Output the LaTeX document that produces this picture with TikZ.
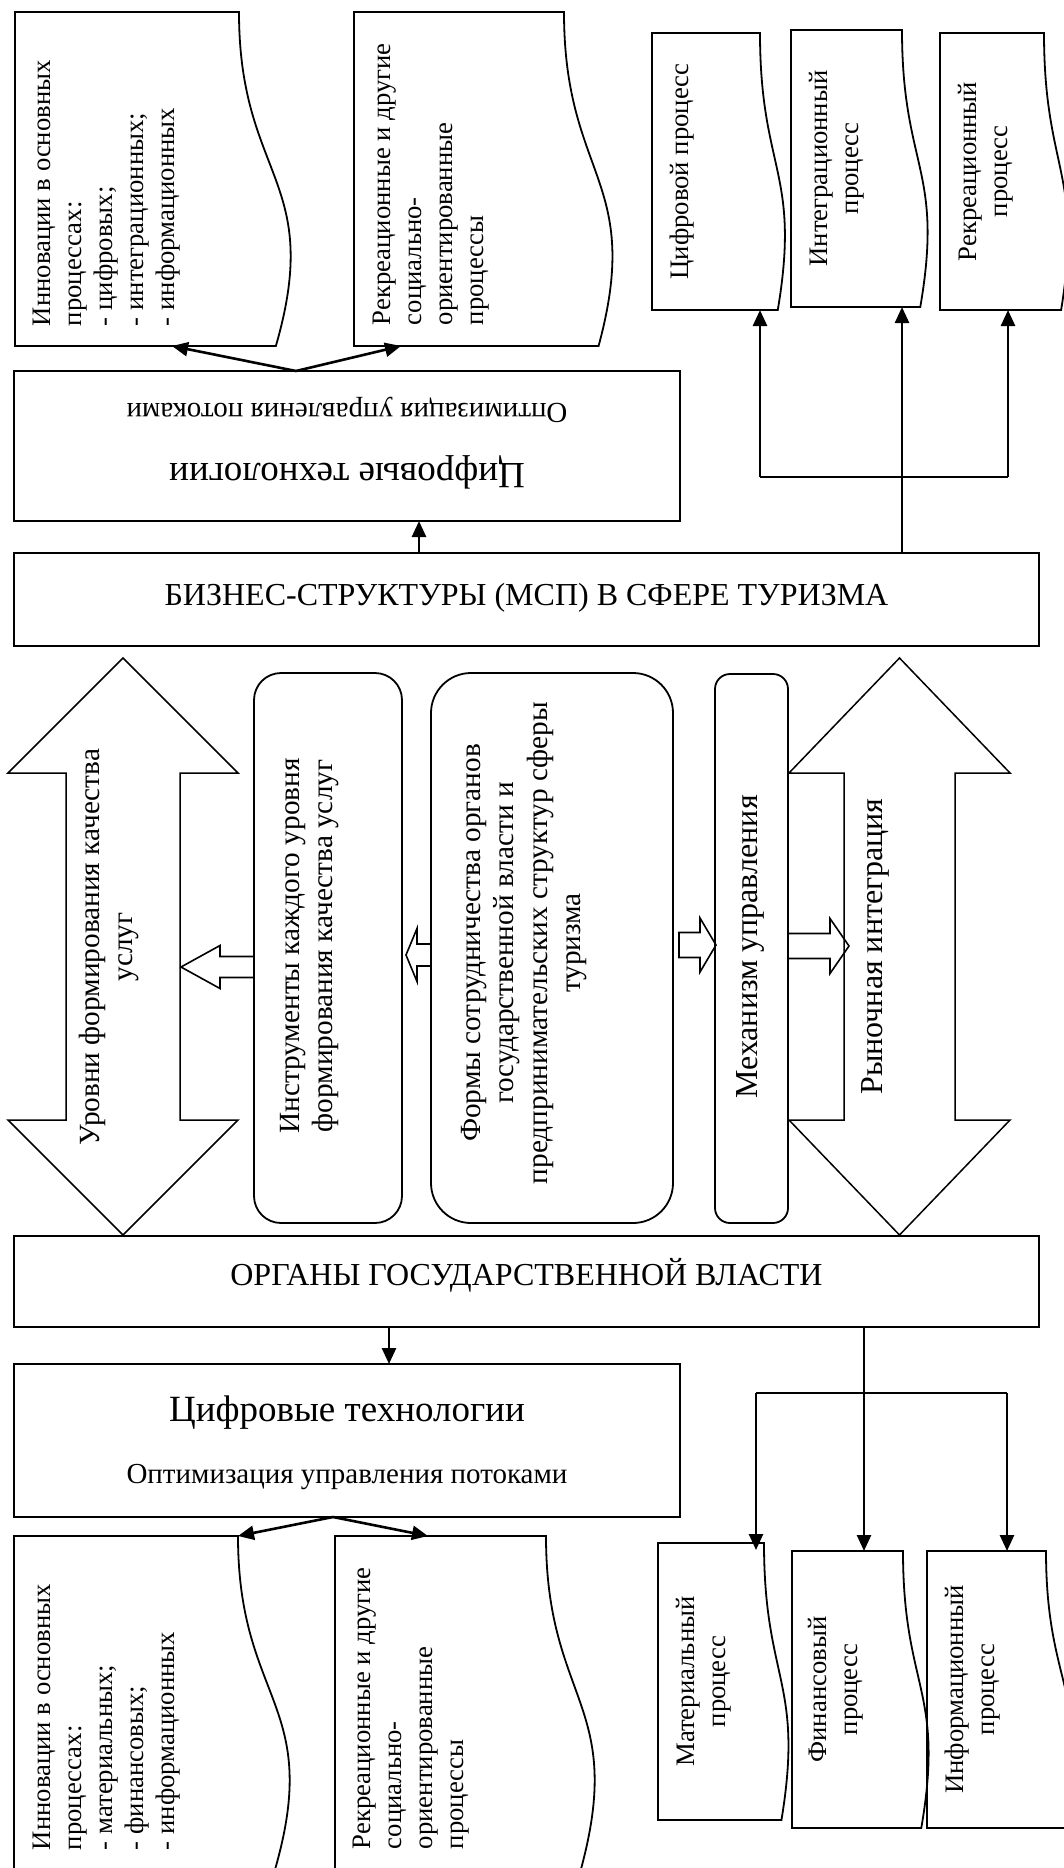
\documentclass[tikz,border=0pt]{standalone}
\usepackage{fontspec}
\setmainfont{Liberation Serif}
\usetikzlibrary{arrows.meta,calc}

\newcommand{\szBody}{\fontsize{26.7pt}{31pt}\selectfont}
\newcommand{\szLabel}{\fontsize{32pt}{36.5pt}\selectfont}
\newcommand{\szColumn}{\fontsize{29.3pt}{33.6pt}\selectfont}
\newcommand{\szBig}{\fontsize{37pt}{42pt}\selectfont}
\newcommand{\szSub}{\fontsize{29pt}{33pt}\selectfont}

% document shape turned on its side: wavy edge on the right
% #1 name, #2 left, #3 top, #4 right end of the straight top edge, #5 bottom
\newcommand{\docbox}[5]{%
  \pgfmathsetmacro{\dbMidY}{(#3+#5)/2}%
  \pgfmathsetmacro{\dbCtlX}{#2+1.380*(#4-#2)}%
  \pgfmathsetmacro{\dbEndX}{#2+1.1646*(#4-#2)}%
  \pgfmathsetmacro{\dbW}{#4-#2}%
  \pgfmathsetmacro{\dbH}{#5-#3}%
  \node[docnode, minimum width=\dbW pt, minimum height=\dbH pt, anchor=north west] (#1) at (#2,#3) {};
  \draw[boxline] (#1.north west) -- (#1.north east)
     .. controls (#4,\dbMidY) and (\dbCtlX,\dbMidY) .. (\dbEndX,#5)
     -- (#1.south west) -- cycle;
}

\begin{document}
\begin{tikzpicture}[x=1pt, y=-1pt,
  boxline/.style={draw=black, line width=1.8pt, line join=miter},
  docnode/.style={inner sep=0pt, outer sep=0pt, draw=none},
  rectbox/.style={draw=black, line width=1.8pt, inner sep=0pt, outer sep=0pt, anchor=north west},
  roundbox/.style={draw=black, line width=1.8pt, inner sep=0pt, outer sep=0pt, anchor=north west},
  bigarrow/.style={draw=black, line width=1.5pt, line join=miter},
  smallarrow/.style={draw=black, line width=1.6pt, line join=miter},
  conn/.style={line width=2.6pt, -{Triangle[length=16pt,width=14pt]}},
  busline/.style={line width=2.6pt},
  stem/.style={line width=1.3pt},
  vtext/.style={rotate=90, inner sep=0pt, outer sep=0pt},
  htext/.style={inner sep=0pt, outer sep=0pt, anchor=base},
]
\useasboundingbox (0,0) rectangle (1064,1868);
\fill[white] (0,0) rectangle (1064,1868);
\begin{scope}
\clip (0,0) rectangle (1064,1868);

% ---------- upper documents ----------
\docbox{innoA}{15}{12}{239}{346}
\node[vtext, anchor=north west, align=left, font=\szBody] (innoA-t) at (33,326)
  {Инновации в основных\\процессах:\\- цифровых;\\- интеграционных;\\- информационных};
\docbox{recA}{354}{12}{564}{346}
\node[vtext, anchor=north west, align=left, font=\szBody] (recA-t) at (373,325)
  {Рекреационные и другие\\социально-\\ориентированные\\процессы};

\docbox{pDig}{652}{33}{760}{310}
\node[vtext, anchor=north, align=center, font=\szBody] (pDig-t) at (670,171.5) {Цифровой процесс};
\docbox{pInt}{791}{30}{902}{307}
\node[vtext, anchor=north, align=center, font=\szBody] (pInt-t) at (809,168.5) {Интеграционный\\процесс};
\docbox{pRec}{940}{33}{1044}{310}
\node[vtext, anchor=north, align=center, font=\szBody] (pRec-t) at (958,171.5) {Рекреационный\\процесс};

% ---------- upper digital technologies box (turned upside down) ----------
\node[rectbox, minimum width=666pt, minimum height=150pt] (digUp) at (14,371) {};
\node[htext, rotate=180, font=\szBig] (digUp-t) at (347,463) {Цифровые технологии};
\node[htext, rotate=180, font=\szSub] (digUp-s) at (347,403) {Оптимизация управления потоками};

\draw[conn] ([xshift=282pt]digUp.north west) -- ([xshift=157pt]innoA.south west);
\draw[conn] ([xshift=282pt]digUp.north west) -- ([xshift=47pt]recA.south west);

% ---------- business structures ----------
\node[rectbox, minimum width=1025pt, minimum height=93pt] (biz) at (14,553) {};
\node[htext, font=\szLabel] (biz-t) at (526.5,605) {БИЗНЕС-СТРУКТУРЫ (МСП) В СФЕРЕ ТУРИЗМА};

\draw[conn] ([xshift=405pt]biz.north west) -- ([xshift=405pt]digUp.south west);

\coordinate (ub1) at (760,477);
\coordinate (ub2) at (902,477);
\coordinate (ub3) at (1008,477);
\draw[stem] (biz.north -| ub2) -- (ub2);
\draw[busline] (ub1) -- (ub3);
\draw[conn] (ub1) -- (pDig.south -| ub1);
\draw[conn] (ub2) -- (pInt.south -| ub2);
\draw[conn] (ub3) -- (pRec.south -| ub3);

% ---------- middle band ----------
\draw[bigarrow] (123,658) -- (238,773) -- (180,773) -- (180,1120) -- (238,1120)
  -- (123,1235) -- (8,1120) -- (66,1120) -- (66,773) -- (8,773) -- cycle;
\node[vtext, anchor=north, align=center, font=\szColumn] (levels-t) at (79,947)
  {Уровни формирования качества\\услуг};

\draw[bigarrow] (899.5,658) -- (1010,773) -- (955,773) -- (955,1120) -- (1010,1120)
  -- (899.5,1235) -- (789,1120) -- (844,1120) -- (844,773) -- (789,773) -- cycle;
\node[vtext, anchor=north, font=\szLabel] (market-t) at (862,946.5) {Рыночная интеграция};

\node[roundbox, rounded corners=27pt, minimum width=148pt, minimum height=550pt] (instr) at (254,673) {};
\node[vtext, anchor=north, align=center, font=\szColumn] (instr-t) at (280,946)
  {Инструменты каждого уровня\\формирования качества услуг};

\node[roundbox, rounded corners=40pt, minimum width=242pt, minimum height=550pt] (forms) at (431,673) {};
\node[vtext, anchor=north, align=center, font=\szColumn] (forms-t) at (461,943)
  {Формы сотрудничества органов\\государственной власти и\\предпринимательских структур сферы\\туризма};

\node[roundbox, rounded corners=15pt, minimum width=73pt, minimum height=549pt] (mech) at (715,674) {};
\node[vtext, anchor=north, font=\szLabel] (mech-t) at (737,947) {Механизм управления};

% hollow block arrows between the columns
\draw[smallarrow] (181,967) -- (220,945.5) -- (220,956.5) -- (254,956.5) -- (254,977.5)
  -- (220,977.5) -- (220,988.5) -- cycle;
\draw[smallarrow] (406,955) -- (417,928.5) -- (417,944) -- (431,944) -- (431,966)
  -- (417,966) -- (417,981.5) -- cycle;
\draw[smallarrow] (679,932.5) -- (700,932.5) -- (700,918) -- (716,945) -- (700,972)
  -- (700,957.5) -- (679,957.5) -- cycle;
\draw[smallarrow] (788,933.5) -- (830,933.5) -- (830,918.5) -- (849,946) -- (830,973.5)
  -- (830,958.5) -- (788,958.5) -- cycle;

% ---------- state authorities ----------
\node[rectbox, minimum width=1025pt, minimum height=91pt] (org) at (14,1236) {};
\node[htext, font=\szLabel] (org-t) at (526.5,1285) {ОРГАНЫ ГОСУДАРСТВЕННОЙ ВЛАСТИ};

% ---------- lower digital technologies box ----------
\node[rectbox, minimum width=666pt, minimum height=153pt] (digDn) at (14,1364) {};
\node[htext, font=\szBig] (digDn-t) at (347,1421) {Цифровые технологии};
\node[htext, font=\szSub] (digDn-s) at (347,1483) {Оптимизация управления потоками};

\draw[conn] ([xshift=375pt]org.south west) -- ([xshift=375pt]digDn.north west);

% ---------- lower documents ----------
\docbox{innoB}{14}{1536}{238}{1870}
\node[vtext, anchor=north west, align=left, font=\szBody] (innoB-t) at (33,1850)
  {Инновации в основных\\процессах:\\- материальных;\\- финансовых;\\- информационных};
\docbox{recB}{335}{1536}{546}{1870}
\node[vtext, anchor=north west, align=left, font=\szBody] (recB-t) at (353,1849)
  {Рекреационные и другие\\социально-\\ориентированные\\процессы};

\draw[conn] ([xshift=319pt]digDn.south west) -- (innoB.north east);
\draw[conn] ([xshift=319pt]digDn.south west) -- ([xshift=93pt]recB.north west);

\docbox{pMat}{658}{1543}{764}{1820}
\node[vtext, anchor=north, align=center, font=\szBody] (pMat-t) at (676,1681.5) {Материальный\\процесс};
\docbox{pFin}{792}{1551}{903}{1828}
\node[vtext, anchor=north, align=center, font=\szBody] (pFin-t) at (808,1689.5) {Финансовый\\процесс};
\docbox{pInf}{927}{1551}{1046}{1828}
\node[vtext, anchor=north, align=center, font=\szBody] (pInf-t) at (945,1689.5) {Информационный\\процесс};

\coordinate (lb1) at (756,1393);
\coordinate (lb2) at (864,1393);
\coordinate (lb3) at (1007,1393);
\draw[stem] (org.south -| lb2) -- (lb2);
\draw[busline] (lb1) -- (lb3);
\draw[conn] (lb1) -- ([yshift=-7pt]pMat.north -| lb1);
\draw[conn] (lb2) -- (pFin.north -| lb2);
\draw[conn] (lb3) -- (pInf.north -| lb3);

\end{scope}
\end{tikzpicture}
\end{document}
